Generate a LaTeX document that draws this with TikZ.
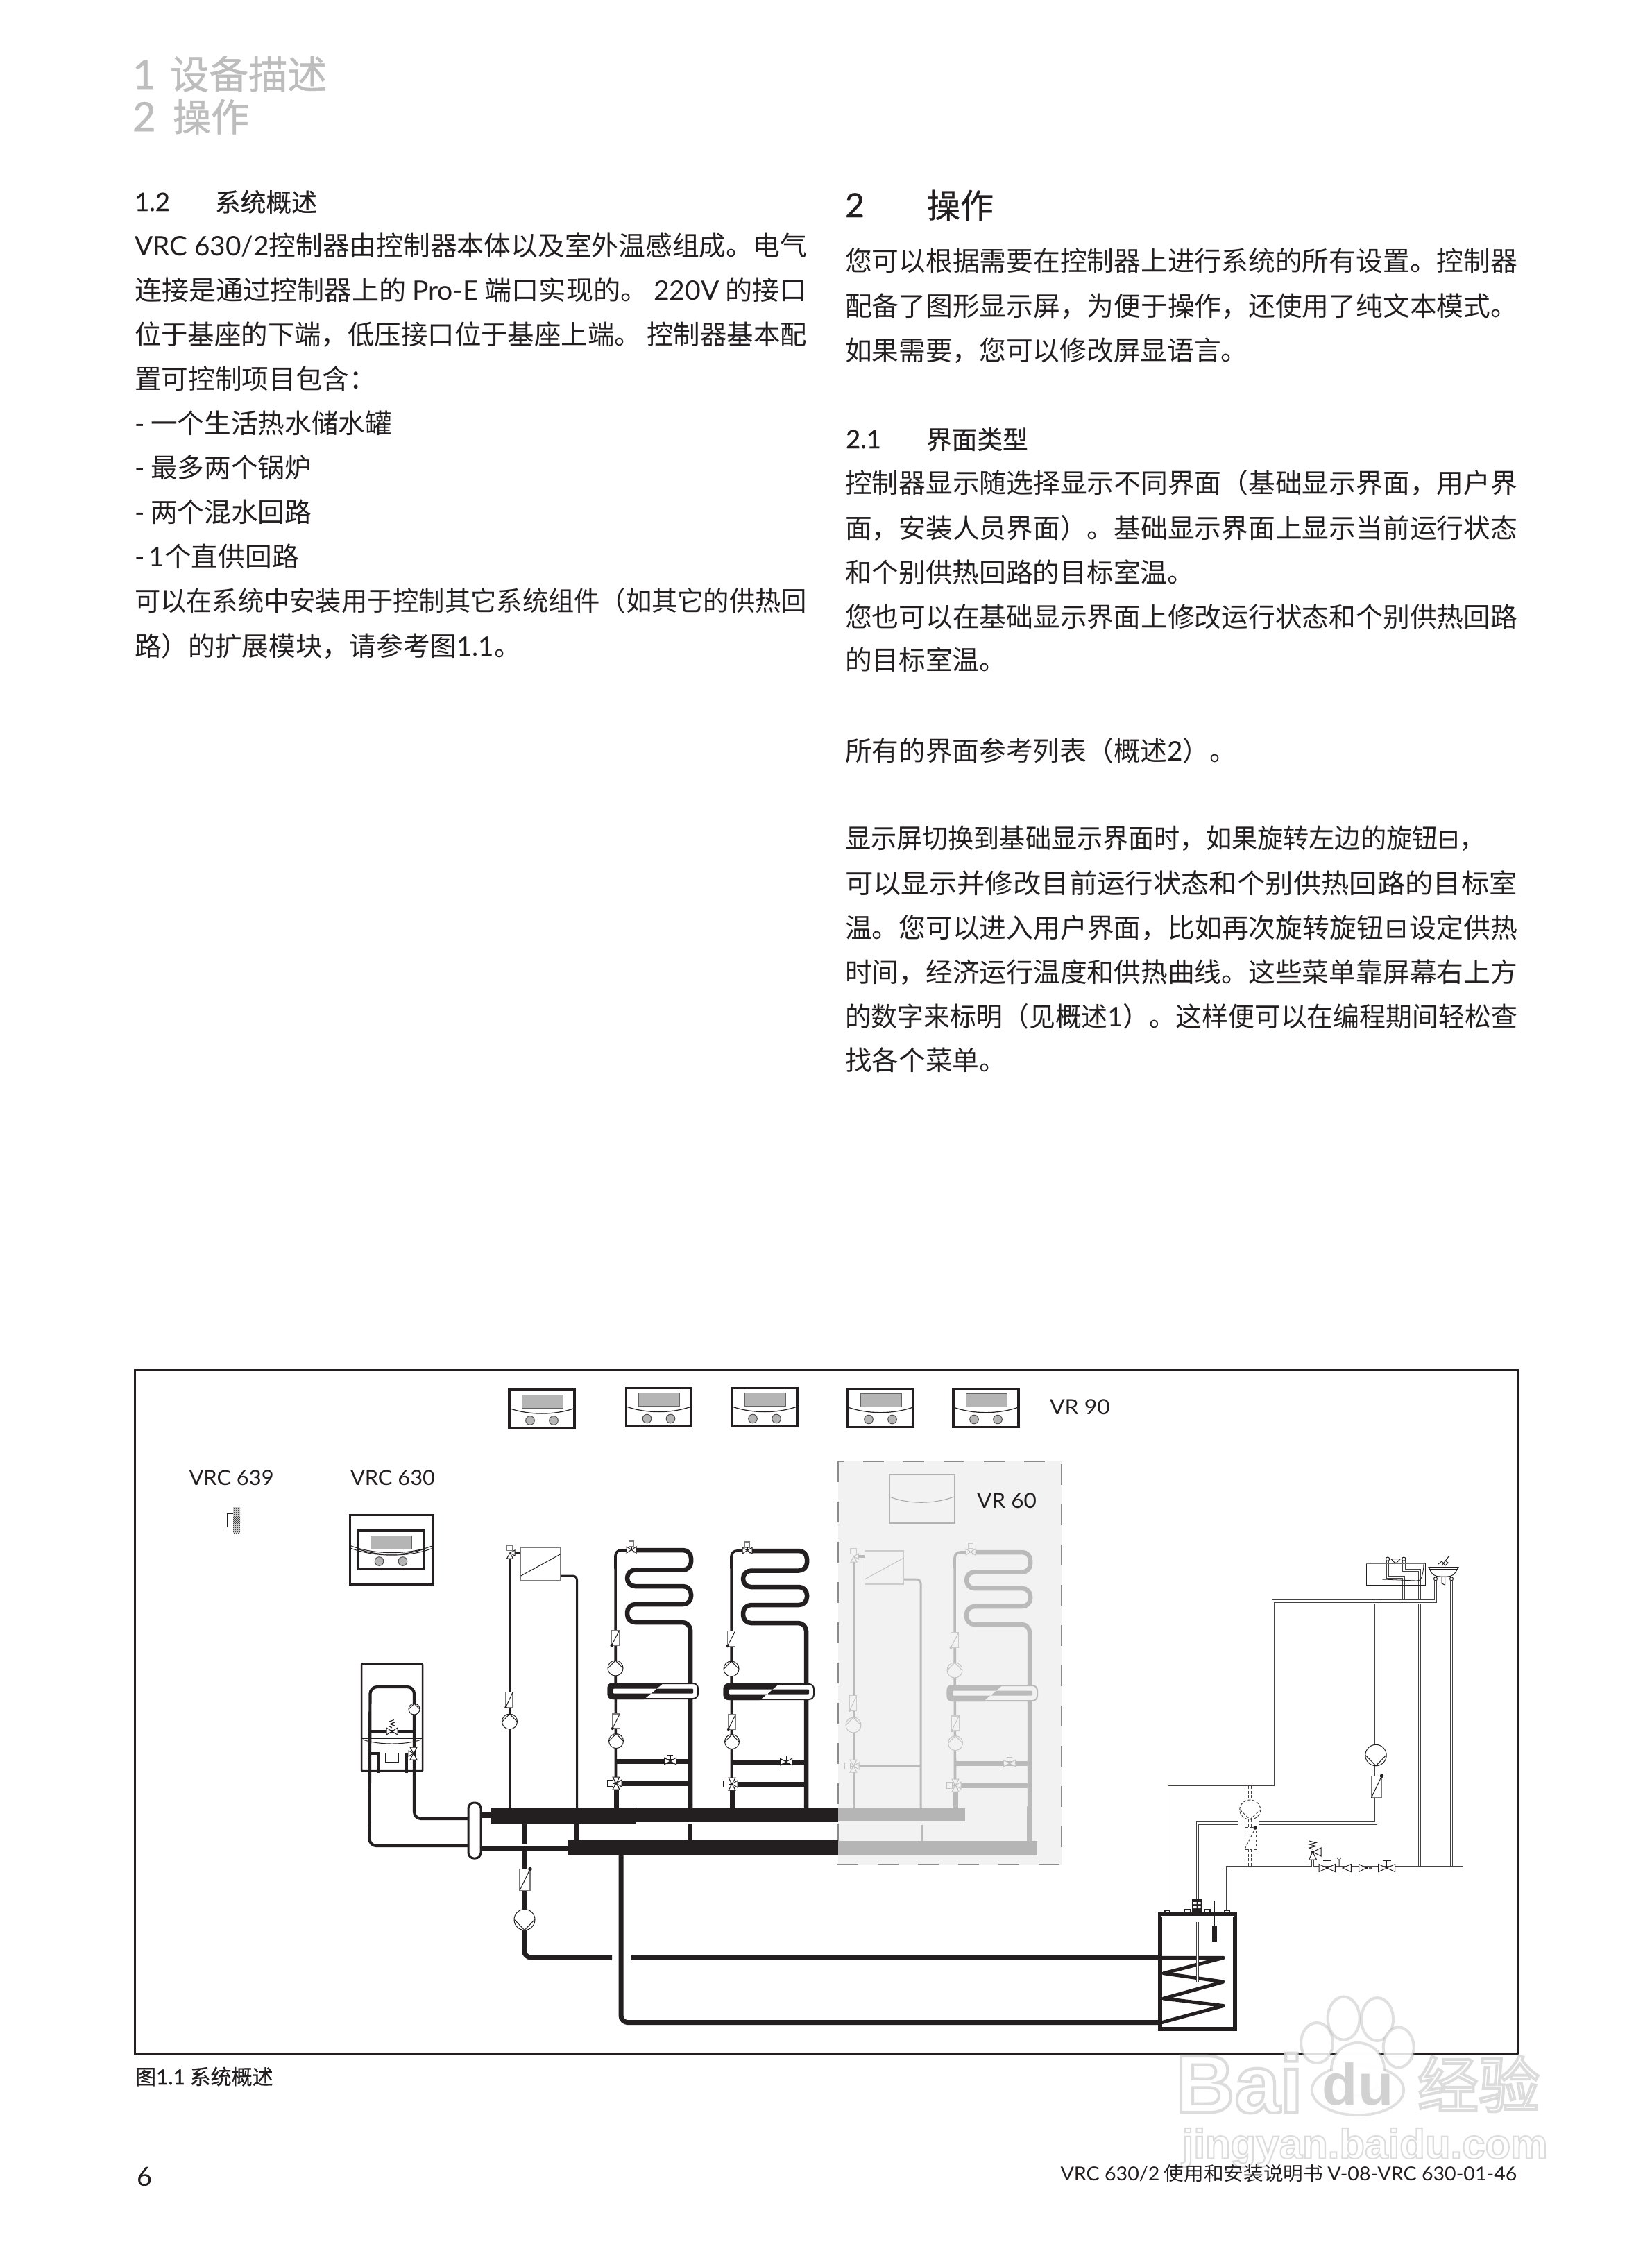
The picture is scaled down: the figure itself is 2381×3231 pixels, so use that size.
\documentclass[tikz,border=0pt]{standalone}
\usepackage{fontspec}
\usepackage{graphicx}
\usetikzlibrary{patterns}
\setmainfont{Noto Sans CJK SC}
\newfontfamily\latf{Lato}
\newfontfamily\cjkb[FakeBold=0.5]{Noto Sans CJK SC}
\newfontfamily\cjkh[FakeBold=0.9]{Noto Sans CJK SC}
\newfontfamily\lath[FakeBold=0.9]{Lato}
\newfontfamily\latb[FakeBold=0.5]{Lato}
\newfontfamily\djv{DejaVu Sans}
\newfontfamily\libw[FakeBold=3.5]{Liberation Sans Bold}
\newfontfamily\libd{Liberation Sans Bold}
\newfontfamily\cjkw[FakeBold=4.5]{Noto Sans CJK SC}
\newcommand\Lx[1]{{\latf #1}}
\newcommand\Lb[1]{{\latb #1}}
\newcommand\Ic{{\djv ⊟}}
\newcommand\Fs[1]{\fontsize{#1}{#1}\selectfont}
\definecolor{ink}{HTML}{231F20}
\colorlet{pipec}{ink}\colorlet{symc}{ink}\colorlet{boxc}{ink!60}\colorlet{symf}{white}
\definecolor{scr}{HTML}{B5B5B5}
\tikzset{
 txt/.style={anchor=base west,inner sep=0pt,outer sep=0pt,text=ink},
 body/.style={txt,font=\Fs{38.7}},
 lab/.style={txt,font=\Fs{30}},
 sym/.style={draw=symc,fill=symf,line width=1pt},
 symline/.style={draw=symc,line width=1pt},
 boxln/.style={draw=boxc,fill=symf,line width=1.2pt},
 dp/.style={draw=ink!85,line width=1pt,double=white,double distance=2.8pt,line join=miter},
 dpd/.style={draw=ink!85,line width=1pt,dashed,dash pattern=on 4pt off 2.5pt},
 wmt/.style={inner sep=0pt,text opacity=.85},
 wmp/.style={draw=black!30,line width=4pt,draw opacity=.4,fill=white,fill opacity=.85},
}
\newcommand\TL[4]{\node[body] (#1) at (#2,#3+14.7) {#4};}
\newcommand\TJ[4]{\node[body] (#1) at (#2,#3+14.7) {\resizebox{969pt}{\height}{#4}};}
% controller
\newcommand\Ctrl[2]{\begin{scope}[shift={(#1,#2)}]
 \draw[draw=ink,line width=3.2pt,fill=white] (0,0) rectangle (94,55);
 \draw[draw=ink!70,fill=scr,line width=.8pt] (18,7) rectangle (77,26);
 \draw[ink,line width=1.2pt] (1.5,27) .. controls (30,36.5) and (64,36.5) .. (92.5,27);
 \draw[draw=ink!80,fill=scr,line width=1pt] (30,44) circle (6.3) (64,44) circle (6.3);
\end{scope}}
% pump: x y r dir
\newcommand\Pmp[4]{\draw[sym] (#1,#2) circle (#3);
 \draw[symline] (#1-.97*#3,#2) -- (#1,#2+#4*#3) -- (#1+.97*#3,#2);}
% check box: cx cy hw hh dot
\newcommand\Chk[5]{\draw[boxln] (#1-#3,#2-#4) rectangle (#1+#3,#2+#4);
 \draw[symline] (#1-#3,#2+#4) -- (#1+#3,#2-#4);
 \fill[symc] (#1+#5*#3,#2-#5*#4) circle ({.33*#3+.3});}
% horizontal bow tie: x y hw hh
\newcommand\Bow[4]{\draw[sym] (#1,#2) -- ++(-#3,-#4) -- ++(0,2*#4) -- cycle;
 \draw[sym] (#1,#2) -- ++(#3,-#4) -- ++(0,2*#4) -- cycle;}
\newcommand\BowV[4]{\draw[sym] (#1,#2) -- ++(-#3,-#4) -- ++(2*#3,0) -- cycle;
 \draw[sym] (#1,#2) -- ++(-#3,#4) -- ++(2*#3,0) -- cycle;}
\newcommand\BowT[5]{\draw[symline] (#1,#2) -- (#1,#2-#5) (#1-#3*.5,#2-#5) -- (#1+#3*.5,#2-#5);\Bow{#1}{#2}{#3}{#4}}
% three way mixer
\newcommand\Tw[2]{\draw[sym] (#1-13,#2-4.5) rectangle (#1-4.5,#2+4.5);
 \BowV{#1}{#2}{5}{9}
 \draw[sym] (#1,#2) -- ++(8,-5) -- ++(0,10) -- cycle;
 \draw[symline] (#1-4,#2) -- (#1,#2);\fill[symc] (#1,#2) circle (1.5);}
% mixed circuit, coordinates of the first one
\newcommand\MixCirc{%
 \draw[pipec,line width=3.6pt,rounded corners=8pt] (887.5,2577) -- (887,2234) -- (906,2234);
 \draw[pipec,line width=7pt] (888,2574) -- (888,2608);
 \draw[pipec,line width=6.5pt,rounded corners=11.5pt] (912,2234) -- (996,2234) -- (996,2262.5) -- (904,2262.5) -- (904,2286) -- (996,2286) -- (996,2312) -- (904,2312) -- (904,2338) -- (995,2338) -- (995,2608);
 \draw[pipec,line width=7.5pt] (888,2538.5) -- (994,2538.5);
 \draw[pipec,line width=7pt] (893,2570.5) -- (994,2570.5);
 \draw[boxln] (906.5,2221) rectangle (913.5,2229);
 \draw[symline] (910,2229) -- (910,2233);
 \Bow{910}{2233.5}{7}{4.5}
 \Chk{887}{2360.5}{5.5}{10.7}{-1}
 \Pmp{887}{2404}{11}{-1}
 % mixer pill
 \draw[draw=pipec,line width=2pt,fill=symf,rounded corners=7pt] (876.5,2426) rectangle (1006,2448);
 \begin{scope}
  \clip[rounded corners=7pt] (875.5,2425) rectangle (1007,2449);
  \fill[pipec] (875,2424) -- (958,2424) -- (927,2450) -- (875,2450) -- cycle;
 \end{scope}
 \fill[symf,rounded corners=1pt] (884,2433.5) -- (947,2433.5) -- (939,2440.5) -- (884,2440.5) -- cycle;
 \fill[pipec,rounded corners=1pt] (947,2433.5) -- (999,2433.5) -- (999,2440.5) -- (939,2440.5) -- cycle;
 \Chk{888}{2480.5}{5.2}{10.5}{-1}
 \Pmp{888}{2509}{10.5}{-1}
 \BowT{966}{2538}{8.5}{4.8}{8.5}
 \Tw{888}{2570}%
}
% direct circuit, coordinates of the first one
\newcommand\DirCirc{%
 \draw[pipec,line width=3.8pt] (735,2244) -- (735,2608);
 \draw[pipec,line width=3pt,rounded corners=6pt] (807,2271) -- (831.5,2271) -- (831.5,2608);
 \draw[pipec,line width=3.8pt] (740,2238) -- (751,2238);
 \draw[boxln] (750.7,2230) rectangle (807.3,2278);
 \draw[symline] (750.7,2271) -- (807.3,2240);
 \draw[boxln] (730.5,2227) rectangle (739,2234.5);
 \draw[sym] (735,2238) -- ++(-4.5,8) -- ++(9,0) -- cycle;
 \draw[sym] (735,2238) -- ++(7,-4) -- ++(0,8) -- cycle;
 \Chk{734}{2449.5}{5}{10.7}{-1}
 \Pmp{734.5}{2481}{11}{-1}%
}
\newcommand\SetGray{\colorlet{pipec}{black!27}\colorlet{symc}{black!23}\colorlet{boxc}{black!20}\colorlet{symf}{black!5}}
% outlined watermark text: stroke grey, fill white
\newcommand\WmT[5]{\node[wmt,font=#4] (#1) at (#2,#3) {\special{pdf:bcolor [1] [0.84]}#5\special{pdf:ecolor}};}
\begin{document}
\begin{tikzpicture}[x=1pt,y=-1pt]
\useasboundingbox (0,0) rectangle (2381,3231);
\fill[white] (0,0) rectangle (2381,3231);
% page head
\node[txt,text=black!26,font=\lath\Fs{58}] (h1a) at (191,128) {1};
\node[txt,text=black!26,font=\cjkh\Fs{56.5}] (h1b) at (245,128) {设备描述};
\node[txt,text=black!26,font=\lath\Fs{58}] (h2a) at (191,189) {2};
\node[txt,text=black!26,font=\cjkh\Fs{55}] (h2b) at (249,189) {操作};
% left column
\node[txt,font=\latb\Fs{36.5}] (s12a) at (194,304) {1.2};
\node[txt,font=\cjkb\Fs{36.7}] (s12b) at (310,305) {系统概述};
\TJ{l1}{194}{354}{\Lx{VRC 630/2}控制器由控制器本体以及室外温感组成。电气}
\TJ{l2}{194}{418}{连接是通过控制器上的 \Lx{Pro-E} 端口实现的。 \Lx{220V} 的接口}
\TJ{l3}{194}{482}{位于基座的下端，低压接口位于基座上端。 控制器基本配}
\TL{l4}{194}{546}{置可控制项目包含：}
\TL{l5}{194}{610}{\Lx{-} 一个生活热水储水罐}
\TL{l6}{194}{674}{\Lx{-} 最多两个锅炉}
\TL{l7}{194}{738}{\Lx{-} 两个混水回路}
\TL{l8}{194}{802}{\Lx{-\,1}个直供回路}
\TJ{l9}{194}{866}{可以在系统中安装用于控制其它系统组件（如其它的供热回}
\TL{l10}{194}{931}{路）的扩展模块，请参考图\Lx{1.1}。}
% right column
\node[txt,font=\latb\Fs{48}] (s2a) at (1218,313) {2};
\node[txt,font=\cjkb\Fs{48}] (s2b) at (1336,314) {操作};
\TJ{r1}{1218}{376}{您可以根据需要在控制器上进行系统的所有设置。控制器}
\TJ{r2}{1218}{441}{配备了图形显示屏，为便于操作，还使用了纯文本模式。}
\TL{r3}{1218}{505}{如果需要，您可以修改屏显语言。}
\node[txt,font=\latb\Fs{36.5}] (s21a) at (1219,646) {2.1};
\node[txt,font=\cjkb\Fs{36.7}] (s21b) at (1335,647) {界面类型};
\TJ{r4}{1218}{696}{控制器显示随选择显示不同界面（基础显示界面，用户界}
\TJ{r5}{1218}{761}{面，安装人员界面）。基础显示界面上显示当前运行状态}
\TL{r6}{1218}{825}{和个别供热回路的目标室温。}
\TJ{r7}{1218}{889}{您也可以在基础显示界面上修改运行状态和个别供热回路}
\TL{r8}{1218}{951}{的目标室温。}
\TL{r9}{1218}{1082}{所有的界面参考列表（概述\Lx{2}）。}
\node[body] (r10) at (1218,1208+14.7) {\scalebox{.96}[1]{显示屏切换到基础显示界面时，如果旋转左边的旋钮\Ic，}};
\TJ{r11}{1218}{1273}{可以显示并修改目前运行状态和个别供热回路的目标室}
\TJ{r12}{1218}{1337}{温。您可以进入用户界面，比如再次旋转旋钮\makebox[38pt]{\Ic}设定供热}
\TJ{r13}{1218}{1401}{时间，经济运行温度和供热曲线。这些菜单靠屏幕右上方}
\TJ{r14}{1218}{1465}{的数字来标明（见概述\Lx{1}）。这样便可以在编程期间轻松查}
\TL{r15}{1218}{1528}{找各个菜单。}
% diagram frame
\draw[ink,line width=3pt] (194,1974) rectangle (2187,2959);
% VR 60 zone
\draw[draw=black!45,fill=black!5,line width=2.5pt,dash pattern=on 30pt off 28pt] (1208,2106) rectangle (1530,2687);
% labels
\node[lab] (lb639) at (272.6,2140) {\resizebox{122pt}{\height}{\latf VRC 639}};
\node[lab] (lb630) at (505,2140) {\resizebox{122pt}{\height}{\latf VRC 630}};
\node[lab] (lb90) at (1513,2038) {\resizebox{87pt}{\height}{\latf VR 90}};
\node[lab] (lb60) at (1408,2173) {\resizebox{86pt}{\height}{\latf VR 60}};
% VR 90 controllers
\Ctrl{734}{2003}\Ctrl{902.5}{2000.5}\Ctrl{1055}{2000.5}\Ctrl{1222}{2001.5}\Ctrl{1374}{2001.5}
% room sensor
\draw[draw=ink,line width=1pt,fill=white] (327,2181) rectangle (336,2200);
\fill[black!15] (336,2172) rectangle (346,2209);
\fill[pattern=north east lines,pattern color=ink] (336,2172) rectangle (346,2209);
% VRC 630
\draw[ink,line width=3.5pt,fill=white] (504.5,2183.5) rectangle (624,2283);
\Ctrl{516.5}{2206}
\draw[ink,line width=1pt] (505,2227.5) .. controls (540,2241) and (590,2241) .. (624,2227.5);
\draw[ink,line width=1pt] (505,2231) .. controls (540,2244.5) and (590,2244.5) .. (624,2231);
% VR 60 box
\draw[draw=black!30,line width=2pt,fill=black!5] (1281.7,2125) rectangle (1376,2195);
\draw[black!35,line width=1pt] (1282,2157) .. controls (1310,2168) and (1345,2168) .. (1375,2157);
% circuits
\begin{scope}\DirCirc\end{scope}
\begin{scope}\MixCirc\end{scope}
\begin{scope}[shift={(167,1)}]\MixCirc\end{scope}
\begin{scope}[shift={(495.5,5)}]\SetGray\DirCirc\end{scope}
\begin{scope}[shift={(489,3)}]\SetGray\MixCirc
 \draw[pipec,line width=6.5pt] (994.5,2600) -- (994.5,2650);
\end{scope}
\begin{scope}\SetGray
 \draw[pipec,line width=3.5pt] (1235,2545) -- (1328,2545);
 \Tw{1230}{2545}
 \draw[pipec,line width=3pt] (1328,2630) -- (1328,2653);
\end{scope}
% boiler
\draw[ink,line width=2.5pt,rounded corners=1pt] (521,2398) rectangle (609,2552);
\draw[ink,line width=4.2pt,rounded corners=10pt] (674,2660) -- (532.5,2660) -- (533.5,2431) -- (597,2431) -- (597,2621) -- (674,2621);
\draw[ink,line width=4pt] (533,2495) -- (597,2495);
\draw[ink,line width=1.4pt] (521,2505.5) -- (609,2505.5);
\draw[ink,line width=1pt] (523,2507) .. controls (545,2515) and (585,2515) .. (607,2507);
\draw[ink,line width=1pt,fill=white] (555.5,2526.6) rectangle (574.4,2539.6);
\draw[ink,line width=4pt] (533,2527) -- (545,2527) -- (545,2555);
\draw[ink,line width=4pt] (586,2526) -- (586,2555);
\Bow{565}{2495}{8}{5}
\draw[ink,line width=1pt] (565,2490) -- (562,2488.5) -- (568,2486.5) -- (562,2484.5) -- (568,2482.5) -- (562,2480.5) -- (568,2478.5);
\Pmp{597}{2463}{8}{-1}
\BowV{596}{2527}{5}{9}
\draw[sym] (596,2527) -- ++(-7,-4) -- ++(0,8) -- cycle;
% header bars
\draw[ink,line width=7pt] (755.5,2628) -- (755.5,2658) (755.5,2668) -- (755.5,2800);
\draw[ink,line width=6pt] (693,2663.6) -- (818,2663.6);
\draw[ink,line width=8pt] (693,2616) -- (707,2616);
\draw[ink,line width=7pt] (831.5,2628) -- (831.5,2653);
\draw[ink,line width=7pt] (994,2628) -- (994,2653);
\fill[ink] (707,2605) rectangle (917,2628);
\fill[ink] (917,2606) rectangle (1208,2626);
\fill[ink] (818,2652) rectangle (1208,2674);
\fill[scr] (1208,2606) rectangle (1391,2625);
\fill[scr] (1208,2653) rectangle (1495,2674);
\draw[draw=ink,line width=3pt,fill=white,rounded corners=8pt] (675,2598) rectangle (693,2678);
% storage charging
\draw[ink,line width=7pt,rounded corners=10pt] (755.5,2780) -- (755.5,2821) -- (882,2821);
\draw[ink,line width=7pt] (909.6,2821) -- (1672,2821);
\draw[ink,line width=7pt,rounded corners=10pt] (895,2672) -- (895,2914.6) -- (1672,2914.6);
\Chk{756.5}{2709}{7.5}{15.5}{1}
\Pmp{756}{2766.5}{15}{1}
% hot water pipes
\draw[dp] (1726,2856) -- (1726,2627.5) -- (1983,2627.5) -- (1983,2311);
\draw[dp] (2092,2278) -- (2092,2691);
\draw[dp] (2046,2311) -- (2046,2691);
\draw[dp] (1769.5,2754) -- (1769.5,2691.5) -- (2108,2691.5);
\draw[dp] (1682,2754) -- (1682,2571.5) -- (1835,2571.5) -- (1835,2307.5) -- (2069,2307.5) -- (2069,2278);
\draw[dp] (2000,2250) -- (2000,2273) -- (2023,2273) -- (2023,2305);
\draw[dp] (2023.3,2250) -- (2023.3,2263) -- (2046,2263) -- (2046,2305);
% dashed pump
\fill[white] (1785,2610) rectangle (1815,2640);
\fill[white] (1795,2574) rectangle (1808,2594);
\fill[white] (1795,2666) rectangle (1808,2689);
\draw[dpd] (1799.5,2574) -- (1799.5,2593) (1803,2574) -- (1803,2593);
\draw[dpd] (1799.5,2622) -- (1799.5,2633) (1803,2622) -- (1803,2633);
\draw[dpd] (1799.5,2665) -- (1799.5,2689) (1803,2665) -- (1803,2689);
\draw[dpd] (1801.7,2608) ellipse (15 and 14);
\draw[dpd] (1787,2608) -- (1801.7,2622) -- (1816.5,2608);
\draw[dpd] (1794,2633) rectangle (1810,2665);
\draw[dpd] (1794,2665) -- (1809,2635);
\fill[ink] (1809,2634) circle (2.8);
% circulation pump
\Pmp{1983}{2529.5}{15.2}{1}
\Chk{1984}{2575}{7.5}{15.7}{1}
% safety group
\draw[dp] (1892,2680) -- (1892,2690);
\draw[sym] (1892,2669) -- ++(-5.5,11) -- ++(11,0) -- cycle;
\draw[sym] (1892,2669) -- ++(12,-6) -- ++(0,12) -- cycle;
\fill[ink] (1892,2669) circle (2);
\draw[symline] (1892,2665) -- (1887,2663) -- (1897,2660.5) -- (1887,2658) -- (1897,2655.5) -- (1887,2653);
\BowT{1912.7}{2692}{11.7}{5.5}{11}
\draw[symline] (1930,2690) -- (1930,2681) (1927,2677) -- (1930,2681) -- (1933,2677);
\draw[sym] (1935,2692) -- (1947.3,2686.5) -- (1947.3,2697.5) -- cycle;
\draw[symline] (1935,2686.5) -- (1935,2697.5);
\draw[sym] (1969,2692) -- (1958.5,2686.5) -- (1958.5,2697.5) -- cycle;
\fill[ink] (1970,2692) circle (2);
\draw[sym] (1975,2692) circle (1.5);
\BowT{1998.7}{2692}{12}{5.5}{11}
% bath
\draw[draw=ink,line width=1pt] (1969,2284.3) -- (2054,2284.3) -- (2054,2253) (1969,2284.3) -- (1969,2253);
\draw[draw=black!55,line width=1.4pt] (1969,2253.5) -- (2054,2253.5);
\draw[ink,line width=.8pt] (1992,2276) -- (2042,2278) .. controls (2048,2279) and (2051,2272) .. (2052,2254);
\draw[sym] (2000,2246.7) circle (2.7) (2023.3,2246.7) circle (2.7);
\draw[symline] (2003,2246.7) -- (2020,2246.7) (2005,2246.7) -- (2010,2252) -- (2013,2252) -- (2018,2246.7);
% sink
\draw[sym] (2059,2258.5) -- (2102,2258.5) -- (2100,2262) .. controls (2097,2269) and (2092,2272) .. (2086,2272) -- (2075,2272) .. controls (2069,2272) and (2063,2269) .. (2061,2262) -- cycle;
\draw[symline] (2060,2261.5) -- (2101,2261.5);
\draw[symline] (2078,2272) -- (2078,2282) -- (2082.5,2284) -- (2082.5,2272);
\draw[sym] (2069,2275.3) circle (2.5) (2092,2275.3) circle (2.5);
\draw[symline] (2073,2254) -- (2078,2250) -- (2082,2255) (2078,2256) -- (2088,2243) (2083,2256) -- (2087,2252) -- (2083,2249);
% storage tank
\draw[draw=ink,line width=6pt,fill=white] (1672,2759) rectangle (1780,2924);
\draw[white,line width=.9pt] (1674,2922) -- (1778,2922) (1674,2761) -- (1778,2761);
\draw[ink,line width=5pt,line join=round,line cap=round] (1675,2821.4) -- (1763.3,2821.4) -- (1677,2843.7) -- (1763.3,2856) -- (1677,2880) -- (1763.3,2890.5) -- (1673,2915);
\draw[dp] (1726,2770) -- (1726,2856);
\draw[ink,line width=1pt] (1724,2856.5) -- (1728,2856.5);
\draw[ink,line width=1.4pt,fill=white] (1679,2753) rectangle (1686,2756);
\draw[ink,line width=1.4pt,fill=white] (1707,2751.5) rectangle (1716,2756);
\draw[ink,line width=1.4pt,fill=white] (1736,2751.5) rectangle (1744,2756);
\draw[ink,line width=1.4pt,fill=white] (1765,2753) rectangle (1772,2756);
\fill[ink] (1718,2737) rectangle (1732.7,2756);
\fill[white] (1720,2741) rectangle (1724.5,2744) (1726,2741) rectangle (1730.5,2744) (1720,2747) rectangle (1724.5,2750) (1726,2747) rectangle (1730.5,2750);
\draw[ink,line width=1pt] (1750.3,2740) -- (1750.3,2775);
\fill[ink] (1747,2774.6) rectangle (1754,2798);
% caption
\node[txt,font=\cjkb\Fs{30}] (cap) at (195,3004) {图\Lb{1.1} 系统概述};
% watermark
\draw[wmp] (1898,2944) ellipse (23 and 29);
\draw[wmp] (1936.6,2908.6) ellipse (23 and 31);
\draw[wmp] (1985,2910) ellipse (23 and 31);
\draw[wmp] (2015.7,2950.5) ellipse (22 and 29);
\draw[wmp] (1957,3012) ellipse (66 and 36);
\draw[wmp] (1957,2982) ellipse (38 and 38);
\fill[white,fill opacity=.95] (1957,3012) ellipse (64 and 34) (1957,2982) ellipse (36 and 36);
\WmT{wa}{1786}{3002}{\libw\Fs{118}}{Bai}
\node[inner sep=0pt,text=black!18,font=\libd\Fs{84}] (wd) at (1957,3003) {du};
\WmT{wb}{2131}{3003}{\cjkw\Fs{88}}{经验}
\WmT{wc}{1967}{3095}{\libw\Fs{60}}{jingyan.baidu.com}
% page foot
\node[txt,font=\latf\Fs{38}] (pg) at (197,3150) {6};
\node[txt,font=\Fs{27.4}] (ft) at (1528.5,3142) {\resizebox{658pt}{\height}{\Lx{VRC 630/2} 使用和安装说明书 \Lx{V-08-VRC 630-01-46}}};
\end{tikzpicture}
\end{document}
